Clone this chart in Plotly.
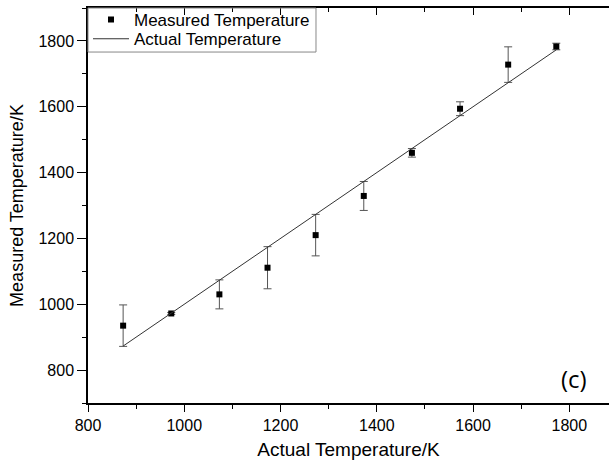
import plotly.graph_objects as go

actual = [873, 973, 1073, 1173, 1273, 1373, 1473, 1573, 1673, 1773]
measured = [935, 972, 1030, 1111, 1210, 1329, 1460, 1594, 1728, 1783]
errors = [63, 3, 44, 64, 63, 44, 13, 21, 54, 10]

line_x = [873, 1773]
line_y = [873, 1773]

FONT = "Liberation Sans, Arial, sans-serif"

fig = go.Figure()
fig.add_trace(go.Scatter(
    x=actual, y=measured, mode="markers", name="Measured Temperature",
    marker=dict(symbol="square", size=6, color="black"),
    error_y=dict(type="data", array=errors, visible=True, color="#555555",
                 thickness=1, width=4),
    legend="legend",
))
fig.add_trace(go.Scatter(
    x=line_x, y=line_y, mode="lines", name="Actual Temperature",
    line=dict(color="#333333", width=1),
    legend="legend2",
))
# dummy trace for top mirror axis
fig.add_trace(go.Scatter(x=[None], y=[None], xaxis="x2", showlegend=False,
                         hoverinfo="skip"))

leg_common = dict(x=0, xanchor="left", yanchor="middle",
                  borderwidth=0, bgcolor="rgba(0,0,0,0)",
                  font=dict(size=17, family=FONT), itemwidth=36)

xr = [800, 1882.5]
fig.update_layout(
    width=609, height=461,
    margin=dict(l=88, r=0, t=8, b=58),
    paper_bgcolor="white", plot_bgcolor="white",
    font=dict(family=FONT, size=16, color="black"),
    showlegend=True,
    legend=dict(y=0.970, **leg_common),
    legend2=dict(y=0.921, **leg_common),
    xaxis=dict(range=xr, dtick=200, tick0=800, showgrid=False, zeroline=False,
               showline=True, linecolor="black", linewidth=1.5,
               ticks="outside", ticklen=7, tickwidth=1.2, tickcolor="black",
               minor=dict(dtick=100, ticks="outside", ticklen=4, tickwidth=1.2,
                          tickcolor="black", showgrid=False),
               title=dict(text="Actual Temperature/K", font=dict(size=19),
                          standoff=10)),
    xaxis2=dict(range=xr, overlaying="x", side="top", matches="x",
                dtick=200, tick0=800, showgrid=False, zeroline=False,
                showline=True, linecolor="black", linewidth=1.5,
                showticklabels=False,
                ticks="inside", ticklen=7, tickwidth=1.2, tickcolor="black",
                minor=dict(dtick=100, ticks="inside", ticklen=4, tickwidth=1.2,
                           tickcolor="black", showgrid=False)),
    yaxis=dict(range=[700, 1900], dtick=200, tick0=800, showgrid=False,
               zeroline=False, showline=True, linecolor="black", linewidth=1.5,
               ticks="outside", ticklen=9, tickwidth=1.2, tickcolor="black",
               minor=dict(dtick=100, ticks="outside", ticklen=4, tickwidth=1.2,
                          tickcolor="black", showgrid=False),
               title=dict(text="Measured Temperature/K", font=dict(size=18),
                          standoff=10)),
)
# legend frame
fig.add_shape(type="rect", xref="paper", yref="paper",
              x0=0, x1=0.4376, y0=0.8885, y1=1.0,
              line=dict(color="#888888", width=1), layer="above")
fig.add_annotation(text="(c)", xref="paper", yref="paper",
                   x=0.933, y=0.063, xanchor="center", yanchor="middle",
                   showarrow=False,
                   font=dict(family="Open Sans, Noto Sans, sans-serif", size=24,
                             color="black"))
fig.write_html("out.html")
